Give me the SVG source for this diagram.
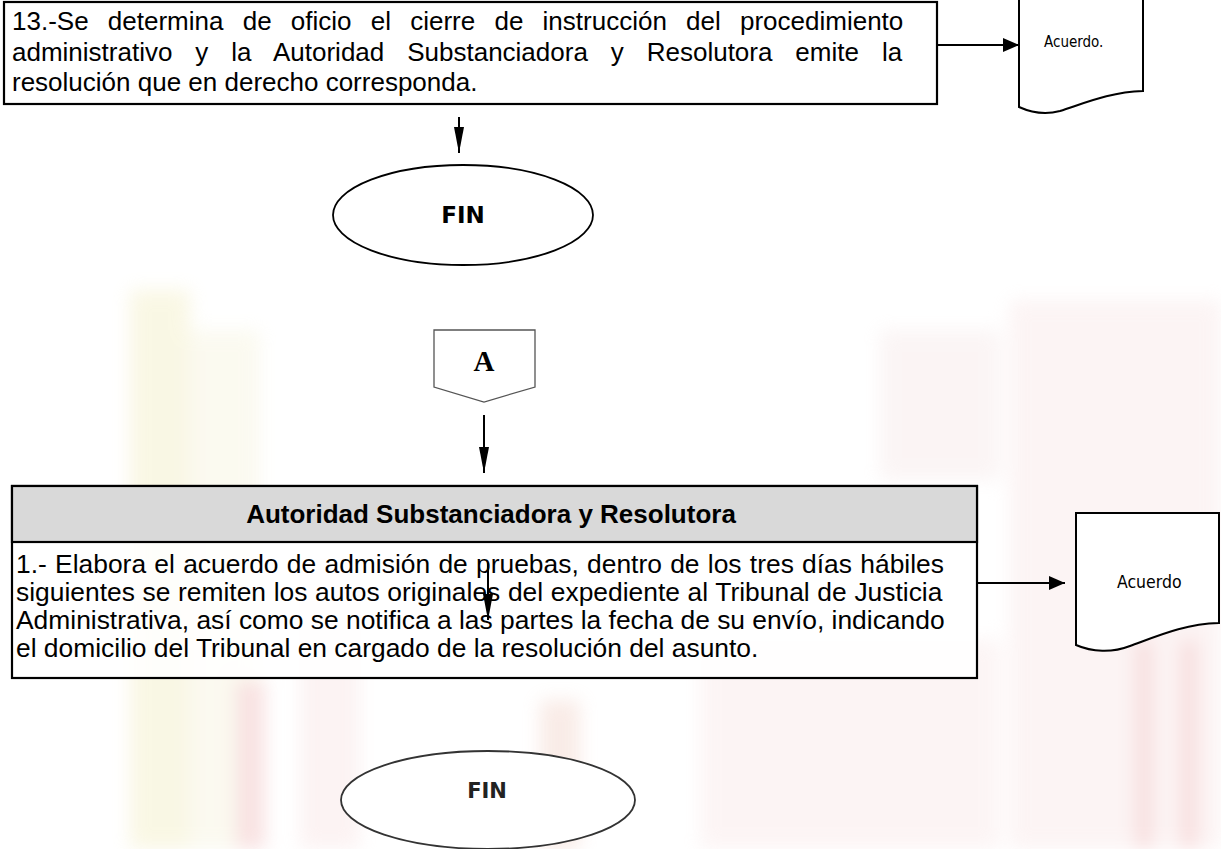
<svg xmlns="http://www.w3.org/2000/svg" width="1221" height="849" viewBox="0 0 1221 849">
<style>
.box{fill:#fff;stroke:#000;stroke-width:2.2}
.doc{fill:#fff;stroke:#000;stroke-width:2}
.t{font-family:"Liberation Sans",Arial,sans-serif;font-size:26px;fill:#000}
.b{font-family:"Liberation Sans",Arial,sans-serif;font-size:26px;font-weight:bold;fill:#000}
.dt{font-family:"DejaVu Sans Condensed","DejaVu Sans",sans-serif;fill:#000}
.fin{font-family:"DejaVu Sans",sans-serif;font-weight:bold;text-anchor:middle}
.con{fill:none;stroke:#000;stroke-width:2}
</style>
<defs>
<marker id="arrH" viewBox="0 0 16 14" markerWidth="16" markerHeight="14" refX="16" refY="7" orient="auto" markerUnits="userSpaceOnUse"><path d="M0,0 L16,7 L0,14 Z" fill="#000"/></marker>
<marker id="arrV" viewBox="0 0 26 10" markerWidth="26" markerHeight="10" refX="26" refY="5" orient="auto" markerUnits="userSpaceOnUse"><path d="M0,0 L26,5 L0,10 Z" fill="#000"/></marker>
<filter id="soft" x="-20%" y="-20%" width="140%" height="140%"><feGaussianBlur stdDeviation="9"/></filter>
</defs>
<rect width="1221" height="849" fill="#fff"/>
<g id="watermark" filter="url(#soft)" opacity="0.3">
<rect x="130" y="290" width="60" height="559" fill="#eee6a8"/>
<rect x="190" y="330" width="70" height="519" fill="#f3efcf"/>
<rect x="235" y="680" width="30" height="169" fill="#eaa0a0"/>
<rect x="300" y="560" width="60" height="289" fill="#f6d8d8"/>
<rect x="540" y="700" width="40" height="149" fill="#ecc0b0"/>
<rect x="700" y="640" width="300" height="209" fill="#f7dede"/>
<rect x="880" y="330" width="120" height="150" fill="#f2dede"/>
<rect x="1010" y="300" width="211" height="549" fill="#f6dcdc"/>
<rect x="1135" y="640" width="18" height="209" fill="#e89090"/>
<rect x="1180" y="640" width="18" height="209" fill="#e89090"/>
</g>
<g id="step13">
<rect class="box" x="4" y="2" width="933" height="102"/>
<text class="t" x="12" y="30" word-spacing="12">13.-Se determina de oficio el cierre de instrucción del procedimiento</text>
<text class="t" x="12" y="61" word-spacing="15.7">administrativo y la Autoridad Substanciadora y Resolutora emite la</text>
<text class="t" x="12" y="91">resolución que en derecho corresponda.</text>
</g>
<g id="doc1">
<path class="doc" d="M1019,-3 L1143,-3 L1143,91 C1110,92 1085,103 1060,111 C1045,115 1030,112 1019,107 Z"/>
<text class="dt" x="1044" y="47" font-size="15">Acuerdo.</text>
</g>
<g id="fin1">
<ellipse cx="463" cy="215" rx="130" ry="50" fill="#fff" stroke="#000" stroke-width="1.8"/>
<text class="fin" x="463" y="223" font-size="23" fill="#000">FIN</text>
</g>
<g id="connA">
<polygon points="434,330 535,330 535,387 484,402 434,387" fill="#fff" stroke="#555" stroke-width="1.3"/>
<text x="484" y="371" text-anchor="middle" font-family="'Liberation Serif',serif" font-weight="bold" font-size="29" fill="#000">A</text>
</g>
<g id="step1">
<rect x="12" y="486" width="965" height="192" fill="#fff" fill-opacity="0.85" stroke="#000" stroke-width="2.2"/>
<rect x="12" y="486" width="965" height="56" fill="#d9d9d9" stroke="#000" stroke-width="2.2"/>
<text class="b" x="491" y="523" text-anchor="middle">Autoridad Substanciadora y Resolutora</text>
<text class="t" x="16" y="573" style="font-size:26.4px" word-spacing="0.96">1.- Elabora el acuerdo de admisión de pruebas, dentro de los tres días hábiles</text>
<text class="t" x="16" y="601" style="font-size:26.4px" word-spacing="0.33">siguientes se remiten los autos originales del expediente al Tribunal de Justicia</text>
<text class="t" x="16" y="629" style="font-size:26.4px">Administrativa, así como se notifica a las partes la fecha de su envío, indicando</text>
<text class="t" x="16" y="657" style="font-size:26.4px">el domicilio del Tribunal en cargado de la resolución del asunto.</text>
</g>
<g id="doc2">
<path class="doc" d="M1076,513 L1219,513 L1219,623 C1185,624 1160,635 1130,646 C1112,653 1092,652 1076,645 Z"/>
<text class="dt" x="1117" y="588" font-size="17.5">Acuerdo</text>
</g>
<g id="fin2">
<ellipse cx="488" cy="800" rx="147" ry="49" fill="#fff" stroke="#333" stroke-width="1.8"/>
<text class="fin" x="487" y="798" font-size="21" fill="#222">FIN</text>
</g>
<g id="connectors">
<path class="con" d="M937,45 L1019,45" marker-end="url(#arrH)"/>
<path class="con" d="M459,117 L459,153" marker-end="url(#arrV)"/>
<path class="con" d="M484,415 L484,473" marker-end="url(#arrV)"/>
<path class="con" d="M977,583 L1065,583" marker-end="url(#arrH)"/>
<path class="con" d="M488,563 L488,620" marker-end="url(#arrV)"/>
</g>
</svg>
